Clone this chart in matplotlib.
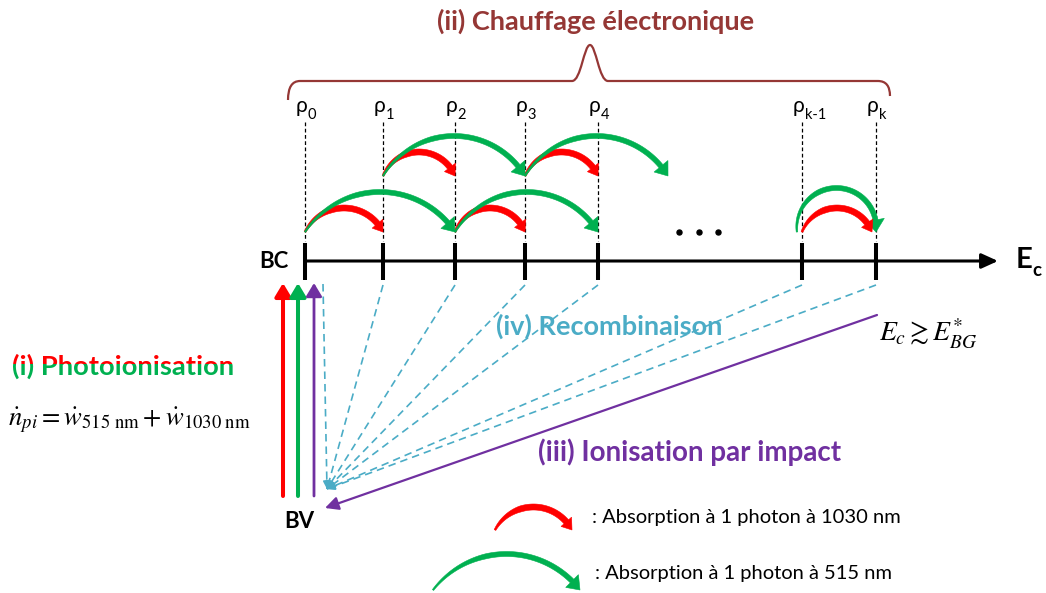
import numpy as np
import matplotlib.pyplot as plt
from matplotlib.patches import Polygon, Rectangle, PathPatch
from matplotlib.path import Path

# energy levels on the conduction band axis
level_names = ["0", "1", "2", "3", "4", "k-1", "k"]
level_x = [305, 383, 455, 525, 598, 802, 876]
open_end_x = 668          # target of the last green jump, off the drawn levels
jump_x = level_x + [open_end_x]

# absorptions: (from level, to level, row)
red_jumps = [(0, 1, "low"), (2, 3, "low"), (1, 2, "high"), (3, 4, "high")]
green_jumps = [(0, 2, "low"), (2, 4, "low"), (1, 3, "high"), (3, 7, "high")]
last_pair = (5, 6)

title = "(ii) Chauffage électronique"
photo_label = "(i) Photoionisation"
photo_formula = r"$\dot{n}_{pi} = \dot{w}_{515\ \mathrm{nm}} + \dot{w}_{1030\ \mathrm{nm}}$"
recomb_label = "(iv) Recombinaison"
impact_label = "(iii) Ionisation par impact"
impact_cond = r"$E_c \gtrsim E^{*}_{BG}$"
legend_labels = [": Absorption à 1 photon à 1030 nm", ": Absorption à 1 photon à 515 nm"]

RED = "#ff0000"
GREEN = "#00b050"
PURPLE = "#7030a0"
CYAN = "#4bacc6"
BROWN = "#953735"
FONT = "Lato"

row_y = {"low": 232, "high": 176}


def curved_arrow(ax, xa, xb, yb, h, color, w, hw, hl, z=3):
    # thick arc arrow (circular arc) from xa to xb on baseline yb, peak height h
    c = (xb - xa) / 2.0
    xm = (xa + xb) / 2.0
    R = (c ** 2 + h ** 2) / (2.0 * h)
    yc = yb - h + R
    te = np.arcsin((R - h) / R)
    ts = np.pi - te
    tb = te + hl / R
    n = 80
    th = np.linspace(ts, tb, n)
    px = xm + R * np.cos(th)
    py = yc - R * np.sin(th)
    frac = np.linspace(0, 1, n)
    ww = w * np.clip(0.3 + frac / 0.4 * 0.7, 0.3, 1.0)
    nx, ny = np.cos(th), -np.sin(th)
    outer = np.column_stack([px + nx * ww / 2, py + ny * ww / 2])
    inner = np.column_stack([px - nx * ww / 2, py - ny * ww / 2])
    bx, by = px[-1], py[-1]
    head = [(bx + nx[-1] * hw / 2, by + ny[-1] * hw / 2), (xb, yb),
            (bx - nx[-1] * hw / 2, by - ny[-1] * hw / 2)]
    verts = np.vstack([outer, head, inner[::-1]])
    ax.add_patch(Polygon(verts, closed=True, fc=color, ec=color, lw=0.4, zorder=z))


def red_arrow(ax, xa, xb, yb, h=24, z=3):
    curved_arrow(ax, xa, xb, yb, h, RED, 6, 14, 10, z)


def green_arrow(ax, xa, xb, yb, h=40, z=4):
    curved_arrow(ax, xa, xb, yb, h, GREEN, 5, 18, 12, z)


fig = plt.figure(figsize=(10.46, 5.93), dpi=100)
ax = fig.add_axes([0, 0, 1, 1])
ax.set_xlim(0, 1046)
ax.set_ylim(593, 0)
ax.axis("off")

# title + brace
ax.text(596, 21, title, color=BROWN, fontsize=19.5, fontweight="bold",
        family=FONT, ha="center", va="center")
brace = Path(
    [(288, 100), (288, 81), (300, 81), (572, 81),
     (581, 81), (584, 45), (590, 45), (596, 45), (599, 81), (608, 81),
     (878, 81), (890, 81), (890, 96)],
    [Path.MOVETO, Path.CURVE3, Path.CURVE3, Path.LINETO,
     Path.CURVE4, Path.CURVE4, Path.CURVE4, Path.CURVE4, Path.CURVE4, Path.CURVE4,
     Path.LINETO, Path.CURVE3, Path.CURVE3])
ax.add_patch(PathPatch(brace, fc="none", ec=BROWN, lw=1.6))

# level labels
for name, x in zip(level_names, level_x):
    t = ax.text(x - 9, 106, "ρ", fontsize=15, family=FONT, ha="left", va="center")
    ax.annotate(name, xy=(1.0, 0.05), xycoords=t, fontsize=10.5, family=FONT,
                ha="left", va="center")

# dashed guides and energy axis
ax.vlines(level_x, 122, 241, colors="k", lw=0.9, linestyles=(0, (3, 2)))
ax.annotate("", xy=(998, 261), xytext=(305, 261),
            arrowprops=dict(arrowstyle="-|>,head_length=0.55,head_width=0.25",
                            lw=2.2, color="k", mutation_scale=18,
                            shrinkA=0, shrinkB=0))
ax.vlines(level_x, 243, 280, colors="k", lw=2.9)
ax.text(274, 262, "BC", fontsize=16, fontweight="bold", family=FONT,
        ha="center", va="center")
te = ax.text(1016, 260, "E", fontsize=21, fontweight="bold", family=FONT,
             ha="left", va="center")
ax.annotate("c", xy=(1.0, 0.1), xycoords=te, fontsize=13.5, fontweight="bold",
            family=FONT, ha="left", va="center")
ax.plot([679, 699, 718], [232, 232, 232], "o", color="k", ms=3.6)

# absorptions
for a, b, row in red_jumps:
    red_arrow(ax, jump_x[a], jump_x[b], row_y[row])
for a, b, row in green_jumps:
    green_arrow(ax, jump_x[a], jump_x[b], row_y[row])
green_arrow(ax, jump_x[last_pair[0]] - 5, jump_x[last_pair[1]], row_y["low"], h=44, z=3)
red_arrow(ax, jump_x[last_pair[0]], jump_x[last_pair[1]] - 4, row_y["low"], z=4)

# photoionisation arrows
for x, c, lw in [(283, RED, 2.9), (298, GREEN, 2.9), (314, PURPLE, 2.0)]:
    ax.annotate("", xy=(x, 283), xytext=(x, 496),
                arrowprops=dict(arrowstyle="-|>,head_length=0.5,head_width=0.3",
                                lw=lw, color=c, mutation_scale=16,
                                shrinkA=0, shrinkB=0))
ax.text(299, 521, "BV", fontsize=16, fontweight="bold", family=FONT,
        ha="center", va="center")

# recombination
conv = (327, 489)
rec_start = [(conv[0] - 4, 284)] + [(x, 285) for x in level_x[1:]]
for sx, sy in rec_start:
    ax.plot([sx, conv[0]], [sy, conv[1]], color=CYAN, lw=1.2, ls=(0, (4.5, 3)), zorder=5)
    d = np.array([conv[0] - sx, conv[1] - sy], float)
    d /= np.hypot(*d)
    ax.annotate("", xy=conv, xytext=(conv[0] - d[0] * 9, conv[1] - d[1] * 9),
                arrowprops=dict(arrowstyle="-|>", color=CYAN, lw=1.2,
                                mutation_scale=11, shrinkA=0, shrinkB=0), zorder=5)
ax.text(609, 326, recomb_label, color=CYAN, fontsize=19.5, fontweight="bold",
        family=FONT, ha="center", va="center")

# impact ionisation
ax.annotate("", xy=(325, 508), xytext=(877, 315),
            arrowprops=dict(arrowstyle="-|>,head_length=0.5,head_width=0.25",
                            lw=1.6, color=PURPLE, mutation_scale=16,
                            shrinkA=0, shrinkB=0))
ax.text(690, 452, impact_label, color=PURPLE, fontsize=20, fontweight="bold",
        family=FONT, ha="center", va="center")
ax.text(928, 334, impact_cond, fontsize=20, math_fontfamily="stix",
        ha="center", va="center")

# photoionisation label, red on top / green below
for c, (y0, y1) in [(RED, (330, 364)), (GREEN, (364, 400))]:
    t = ax.text(123, 366, photo_label, color=c, fontsize=19.7, fontweight="bold",
                family=FONT, ha="center", va="center", clip_on=True)
    clip = Rectangle((0, y0), 290, y1 - y0, transform=ax.transData)
    t.set_clip_path(clip)
ax.text(129, 420, photo_formula, fontsize=19.2, math_fontfamily="stix",
        ha="center", va="center")

# legend
red_arrow(ax, 495, 572, 530, h=23)
green_arrow(ax, 433, 580, 590, h=36)
ax.text(592, 517, legend_labels[0], fontsize=14.5, family=FONT, ha="left", va="center")
ax.text(595, 574, legend_labels[1], fontsize=14.5, family=FONT, ha="left", va="center")

fig.savefig("out.png", dpi=100)
